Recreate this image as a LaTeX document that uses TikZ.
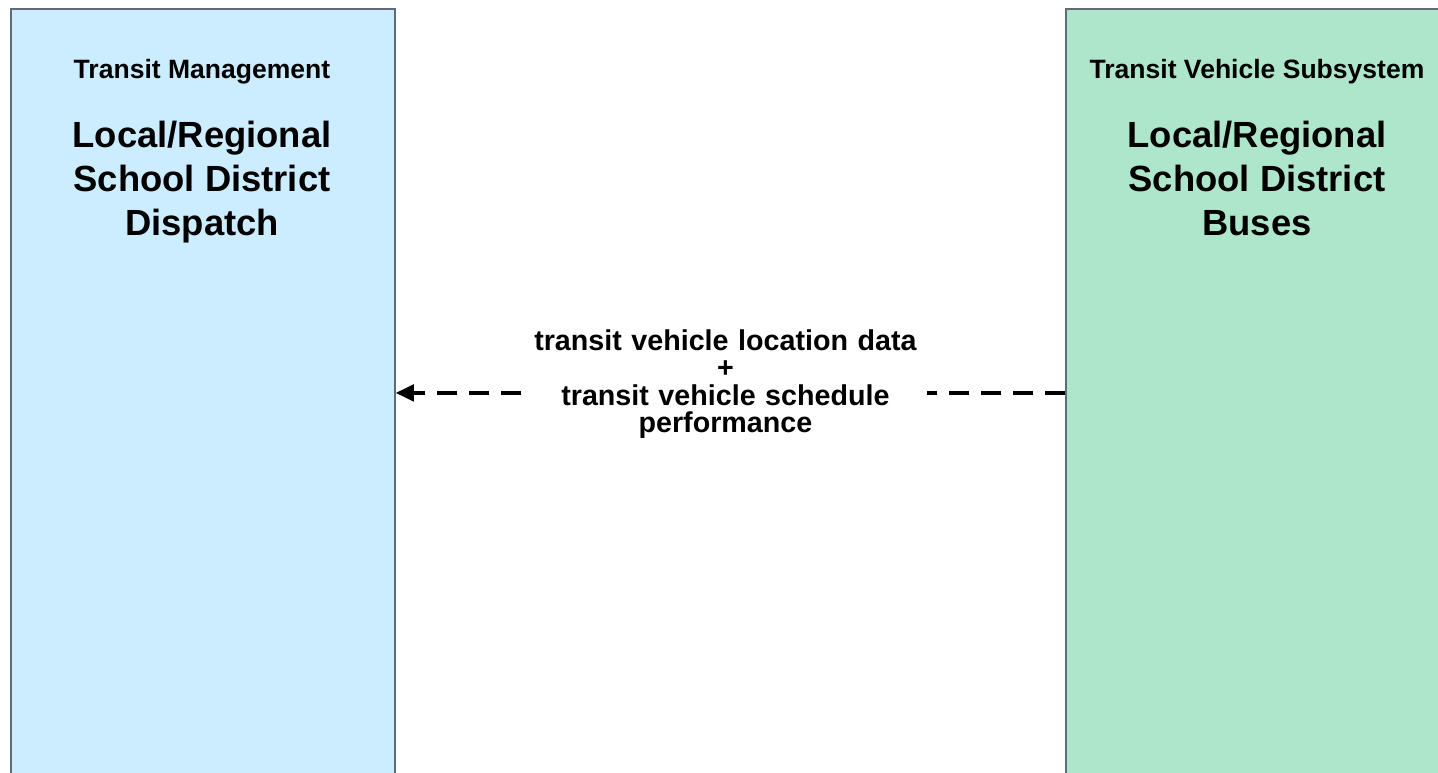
\documentclass[tikz,border=0pt]{standalone}
\usepackage{fontspec}
\setmainfont{Liberation Sans}
\usetikzlibrary{arrows.meta}
\definecolor{dispfill}{HTML}{CCECFF}
\definecolor{busfill}{HTML}{AEE6CC}
\definecolor{boxline}{HTML}{5F6B78}
\tikzset{
  sysbox/.style={draw=boxline, line width=1.4pt, minimum width=288pt, minimum height=576pt, anchor=north west, inner sep=0pt},
  header/.style={font=\fontsize{19.9pt}{23pt}\selectfont\bfseries, anchor=base, inner sep=0pt},
  title/.style={font=\fontsize{27.3pt}{32.8pt}\selectfont\bfseries, align=center, anchor=north, inner sep=0pt},
  flow/.style={line width=2.4pt, dash pattern=on 15pt off 9pt, -{Triangle[length=13.5pt,width=12.5pt]}},
  flowlabel/.style={font=\fontsize{21.5pt}{20.6pt}\selectfont\bfseries, fill=white, text width=303pt, align=center, inner xsep=0pt, inner ysep=0pt, anchor=north}
}
\begin{document}
\begin{tikzpicture}[x=0.75pt,y=-0.75pt]
\useasboundingbox (0,0) rectangle (1438,773);
\clip (0,0) rectangle (1438,773);
\node[sysbox, fill=dispfill] (disp) at (10,8) {};
\node[sysbox, fill=busfill] (bus) at (1065,8) {};
\node[header] (disphead) at (202,79) {Transit Management};
\node[header] (bushead) at (1257,79) {Transit Vehicle Subsystem};
\node[title] (disptitle) at (202,121) {Local/Regional\\School District\\Dispatch};
\node[title] (bustitle) at (1257,121) {Local/Regional\\School District\\Buses};
\draw[flow] (bus.west) -- (disp.east)
  node[flowlabel, midway, xshift=-3.75pt, yshift=48.75pt] (lbl) {transit vehicle location data\\+\\transit vehicle schedule\\performance};
\end{tikzpicture}
\end{document}
